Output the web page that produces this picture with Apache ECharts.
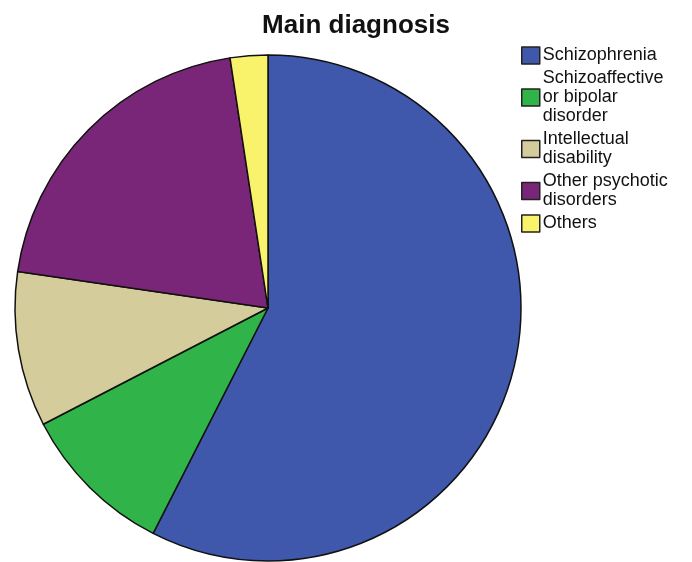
<!DOCTYPE html>
<html>
<head>
<meta charset="utf-8">
<title>Main diagnosis</title>
<script src="https://cdn.jsdelivr.net/npm/echarts@6/dist/echarts.min.js"></script>
<style>
  html, body { margin: 0; padding: 0; background: #fff; }
  #chart { width: 692px; height: 562px; }
</style>
</head>
<body>
<div id="chart"></div>
<script>
// categories and shares (%)
var categories = ["Schizophrenia", "Schizoaffective or bipolar disorder", "Intellectual disability", "Other psychotic disorders", "Others"];
var legendLabels = ["Schizophrenia", "Schizoaffective\nor bipolar\ndisorder", "Intellectual\ndisability", "Other psychotic\ndisorders", "Others"];
var shares = [57.5, 9.9, 9.9, 20.3, 2.4];
var colors = ["#3f58ab", "#30b44a", "#d4cd9b", "#792679", "#f8f36a"];

var chart = echarts.init(document.getElementById("chart"), null, { renderer: "canvas" });

var data = categories.map(function(name, i) {
    return { name: name, value: shares[i], itemStyle: { color: colors[i] } };
});

chart.setOption({
    animation: false,
    title: {
        text: "Main diagnosis",
        left: 351,
        top: 8,
        textAlign: "center",
        textStyle: {
            fontFamily: "Liberation Sans, Arial, sans-serif",
            fontSize: 26,
            fontWeight: "bold",
            color: "#111"
        }
    },
    legend: {
        orient: "vertical",
        left: 521,
        top: 46,
        padding: 0,
        itemWidth: 18,
        itemHeight: 17,
        itemGap: 4,
        icon: "rect",
        selectedMode: false,
        itemStyle: { borderColor: "#222", borderWidth: 1.5 },
        data: categories,
        formatter: function(name) {
            return legendLabels[categories.indexOf(name)];
        },
        textStyle: {
            fontFamily: "Liberation Sans, Arial, sans-serif",
            fontSize: 18,
            lineHeight: 19,
            color: "#111",
            padding: [0, 0, 0, -2]
        }
    },
    series: [{
        type: "pie",
        center: [268, 308],
        radius: 253,
        startAngle: 90,
        clockwise: true,
        label: { show: false },
        labelLine: { show: false },
        emphasis: { disabled: true },
        itemStyle: { borderColor: "#111", borderWidth: 1.5 },
        data: data
    }]
});
</script>
</body>
</html>
